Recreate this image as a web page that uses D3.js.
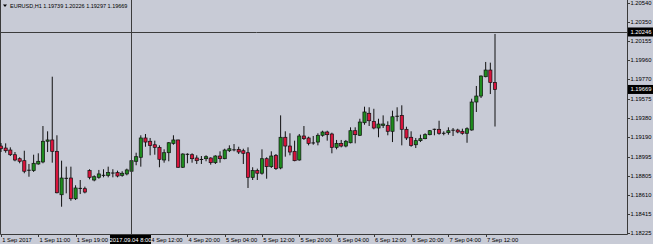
<!DOCTYPE html>
<html>
<head>
<meta charset="utf-8">
<script src="https://cdn.jsdelivr.net/npm/d3@7"></script>
<style>
  body { margin: 0; background: #c8cbd6; }
  svg { display: block; }
  text { font-family: "Liberation Sans", Arial, sans-serif; font-size: 5.8px; fill: #000; }
</style>
</head>
<body>
<div id="chart"></div>
<script>
// EURUSD H1, 1 Sep 2017 03:00 .. 7 Sep 14:00 (bar index 0..106)
var opens = [
  1.19101, 1.19081, 1.19061, 1.19014, 1.18974, 1.18954, 1.18861, 1.18854, 1.18921, 1.18941,
  1.19149, 1.19162, 1.19048, 1.18612, 1.18780, 1.18780, 1.18572, 1.18673, 1.18673, 1.18854,
  1.18760, 1.18787, 1.18814, 1.18807, 1.18828, 1.18834, 1.18807, 1.18821, 1.18848, 1.18948,
  1.18988, 1.19182, 1.19149, 1.19114, 1.19088, 1.18961, 1.19034, 1.19128, 1.19162, 1.18888,
  1.19021, 1.19014, 1.18981, 1.18968, 1.18974, 1.18981, 1.18934, 1.19001, 1.18974, 1.19054,
  1.19061, 1.19068, 1.19054, 1.19034, 1.18787, 1.18854, 1.18828, 1.18974, 1.18894, 1.19008,
  1.18881, 1.19189, 1.19101, 1.19048, 1.18961, 1.19202, 1.19182, 1.19134, 1.19141, 1.19209,
  1.19242, 1.19222, 1.19088, 1.19128, 1.19101, 1.19134, 1.19255, 1.19209, 1.19335, 1.19430,
  1.19349, 1.19282, 1.19309, 1.19309, 1.19249, 1.19402, 1.19409, 1.19269, 1.19189, 1.19114,
  1.19155, 1.19175, 1.19215, 1.19262, 1.19269, 1.19235, 1.19235, 1.19262, 1.19262, 1.19249,
  1.19229, 1.19262, 1.19543, 1.19603, 1.19797, 1.19864, 1.19739
];
var highs = [
  1.19131, 1.19128, 1.19088, 1.19041, 1.18988, 1.19054, 1.18921, 1.19014, 1.19028, 1.19302,
  1.19249, 1.19797, 1.19209, 1.18954, 1.18894, 1.18894, 1.18707, 1.18760, 1.18693, 1.18868,
  1.18807, 1.18861, 1.18868, 1.18894, 1.18868, 1.18854, 1.18848, 1.18874, 1.19041, 1.19034,
  1.19209, 1.19222, 1.19182, 1.19155, 1.19108, 1.19068, 1.19141, 1.19209, 1.19165, 1.19028,
  1.19028, 1.19028, 1.19008, 1.19001, 1.19008, 1.18988, 1.19008, 1.19048, 1.19074, 1.19108,
  1.19121, 1.19094, 1.19074, 1.19088, 1.18888, 1.18874, 1.19068, 1.18988, 1.19048, 1.19021,
  1.19409, 1.19249, 1.19229, 1.19155, 1.19222, 1.19302, 1.19195, 1.19202, 1.19229, 1.19255,
  1.19255, 1.19235, 1.19162, 1.19162, 1.19162, 1.19289, 1.19289, 1.19375, 1.19496, 1.19490,
  1.19475, 1.19375, 1.19409, 1.19349, 1.19456, 1.19490, 1.19510, 1.19295, 1.19249, 1.19182,
  1.19215, 1.19229, 1.19262, 1.19275, 1.19355, 1.19249, 1.19289, 1.19282, 1.19275, 1.19275,
  1.19289, 1.19576, 1.19704, 1.19810, 1.19945, 1.19938, 1.20226
];
var lows = [
  1.19041, 1.19034, 1.19001, 1.18948, 1.18928, 1.18828, 1.18793, 1.18841, 1.18914, 1.18928,
  1.19041, 1.18934, 1.18626, 1.18492, 1.18626, 1.18552, 1.18559, 1.18619, 1.18626, 1.18767,
  1.18747, 1.18773, 1.18787, 1.18787, 1.18787, 1.18787, 1.18793, 1.18807, 1.18828, 1.18908,
  1.18894, 1.19094, 1.19008, 1.19014, 1.18888, 1.18934, 1.18948, 1.19114, 1.18881, 1.18881,
  1.18928, 1.18934, 1.18921, 1.18921, 1.18948, 1.18914, 1.18921, 1.18934, 1.18968, 1.19041,
  1.19048, 1.19021, 1.18921, 1.18680, 1.18760, 1.18760, 1.18814, 1.18773, 1.18881, 1.18861,
  1.18868, 1.18994, 1.19008, 1.18948, 1.18954, 1.19162, 1.19108, 1.19114, 1.19108, 1.19195,
  1.19155, 1.19028, 1.19068, 1.19088, 1.19088, 1.19128, 1.19128, 1.19202, 1.19315, 1.19302,
  1.19269, 1.19189, 1.19282, 1.19209, 1.19141, 1.19349, 1.19108, 1.19162, 1.19094, 1.19081,
  1.19141, 1.19169, 1.19209, 1.19209, 1.19215, 1.19209, 1.19215, 1.19202, 1.19229, 1.19215,
  1.19134, 1.19255, 1.19443, 1.19583, 1.19791, 1.19623, 1.19297
];
var closes = [
  1.19074, 1.19054, 1.19014, 1.18961, 1.18948, 1.18848, 1.18858, 1.18928, 1.18948, 1.19149,
  1.19162, 1.19048, 1.18632, 1.18780, 1.18777, 1.18572, 1.18680, 1.18676, 1.18639, 1.18787,
  1.18793, 1.18821, 1.18807, 1.18834, 1.18830, 1.18800, 1.18828, 1.18861, 1.18954, 1.18994,
  1.19182, 1.19141, 1.19108, 1.19088, 1.18968, 1.19034, 1.19134, 1.19162, 1.18888, 1.19021,
  1.19018, 1.18974, 1.18954, 1.18966, 1.18994, 1.18934, 1.19001, 1.18974, 1.19061, 1.19074,
  1.19063, 1.19041, 1.19028, 1.18787, 1.18854, 1.18828, 1.18974, 1.18894, 1.19001, 1.18874,
  1.19189, 1.19101, 1.19041, 1.18954, 1.19202, 1.19175, 1.19128, 1.19132, 1.19209, 1.19242,
  1.19215, 1.19088, 1.19128, 1.19101, 1.19149, 1.19255, 1.19215, 1.19342, 1.19443, 1.19355,
  1.19282, 1.19322, 1.19322, 1.19249, 1.19395, 1.19400, 1.19269, 1.19182, 1.19108, 1.19155,
  1.19175, 1.19215, 1.19255, 1.19269, 1.19229, 1.19229, 1.19255, 1.19260, 1.19242, 1.19229,
  1.19275, 1.19543, 1.19603, 1.19804, 1.19864, 1.19739, 1.19669
];

var priceTicks = [1.20540, 1.20350, 1.20155, 1.19960, 1.19770, 1.19575, 1.19380,
                  1.19190, 1.18995, 1.18805, 1.18610, 1.18415, 1.18225];
var timeTickBars = [0, 8, 16, 24, 32, 40, 48, 56, 64, 72, 80, 88, 96, 104];
var timeTickLabels = ["1 Sep 2017", "1 Sep 11:00", "1 Sep 19:00", "4 Sep 04:00", "4 Sep 12:00",
  "4 Sep 20:00", "5 Sep 04:00", "5 Sep 12:00", "5 Sep 20:00", "6 Sep 04:00", "6 Sep 12:00",
  "6 Sep 20:00", "7 Sep 04:00", "7 Sep 12:00"];

var title = "EURUSD,H1  1.19739 1.20226 1.19297 1.19669";
var crossPrice = 1.20246, crossBar = 28, crossLabel = "2017.09.04 8:00";
var lastPrice = 1.19669;

var width = 653, height = 244;
var plotRight = 627, plotBottom = 234;

var bg = "#c8cbd6", upCol = "#1e8c1e", downCol = "#d8143c", frame = "#3a3a3a";

var x = d3.scaleLinear().domain([0, 106]).range([1, 495]);
var y = d3.scaleLinear().domain([1.18225, 1.20540]).range([233.3, 2.7]);

var bars = opens.map(function (o, i) {
  return { i: i, o: o, h: highs[i], l: lows[i], c: closes[i] };
});

var svg = d3.select("#chart").append("svg")
  .attr("width", width)
  .attr("height", height);

svg.append("rect").attr("width", width).attr("height", height).attr("fill", bg);

// frame
svg.append("path")
  .attr("d", "M0.5,0 V" + (plotBottom + 0.5) + " H" + (plotRight + 0.5) + " V0")
  .attr("fill", "none")
  .attr("stroke", frame)
  .attr("stroke-width", 1);

// candles
var g = svg.append("g").attr("class", "candles");

g.selectAll("line.wick")
  .data(bars)
  .enter()
  .append("line")
  .attr("class", "wick")
  .attr("x1", function (d) { return x(d.i); })
  .attr("x2", function (d) { return x(d.i); })
  .attr("y1", function (d) { return y(d.h); })
  .attr("y2", function (d) { return y(d.l); })
  .attr("stroke", "#111")
  .attr("stroke-width", 1);

g.selectAll("rect.body")
  .data(bars.filter(function (d) { return Math.abs(d.o - d.c) >= 0.00008; }))
  .enter()
  .append("rect")
  .attr("class", "body")
  .attr("x", function (d) { return x(d.i) - 1.6; })
  .attr("width", 3.2)
  .attr("y", function (d) { return y(Math.max(d.o, d.c)); })
  .attr("height", function (d) { return Math.abs(y(d.o) - y(d.c)); })
  .attr("fill", function (d) { return d.c > d.o ? upCol : downCol; })
  .attr("stroke", "#111")
  .attr("stroke-width", 0.7);

g.selectAll("line.doji")
  .data(bars.filter(function (d) { return Math.abs(d.o - d.c) < 0.00008; }))
  .enter()
  .append("line")
  .attr("class", "doji")
  .attr("x1", function (d) { return x(d.i) - 1.8; })
  .attr("x2", function (d) { return x(d.i) + 1.8; })
  .attr("y1", function (d) { return y(d.c); })
  .attr("y2", function (d) { return y(d.c); })
  .attr("stroke", "#111")
  .attr("stroke-width", 1);

// crosshair
svg.append("line")
  .attr("x1", 0).attr("x2", plotRight)
  .attr("y1", Math.round(y(crossPrice)) + 0.5).attr("y2", Math.round(y(crossPrice)) + 0.5)
  .attr("stroke", "#3c3c3c");
svg.append("line")
  .attr("x1", Math.round(x(crossBar)) + 0.5).attr("x2", Math.round(x(crossBar)) + 0.5)
  .attr("y1", 0).attr("y2", plotBottom)
  .attr("stroke", "#3c3c3c");

// price axis
var yAxis = svg.append("g").attr("class", "y-axis");
yAxis.selectAll("line")
  .data(priceTicks)
  .enter()
  .append("line")
  .attr("x1", plotRight).attr("x2", plotRight + 3)
  .attr("y1", function (d) { return Math.round(y(d)) + 0.5; })
  .attr("y2", function (d) { return Math.round(y(d)) + 0.5; })
  .attr("stroke", frame);
yAxis.selectAll("text")
  .data(priceTicks)
  .enter()
  .append("text")
  .attr("x", plotRight + 3.5)
  .attr("y", function (d) { return y(d) + 2; })
  .text(function (d) { return d3.format(".5f")(d); });

// highlighted price labels
[crossPrice, lastPrice].forEach(function (p) {
  svg.append("rect")
    .attr("x", plotRight + 1).attr("y", y(p) - 4.5)
    .attr("width", 25).attr("height", 9)
    .attr("fill", "#000");
  svg.append("text")
    .attr("x", plotRight + 3.5).attr("y", y(p) + 2)
    .style("fill", "#fff")
    .text(d3.format(".5f")(p));
});

// time axis; the label hidden under the crosshair time box is skipped
var boxL = x(crossBar) - 21.5, boxR = x(crossBar) + 19.5;
var shownTicks = timeTickBars.filter(function (b) {
  return x(b) + 1 > boxR || x(b) + 30 < boxL;
});

var xAxis = svg.append("g").attr("class", "x-axis");
xAxis.selectAll("line")
  .data(timeTickBars)
  .enter()
  .append("line")
  .attr("x1", function (d) { return Math.round(x(d)) + 0.5; })
  .attr("x2", function (d) { return Math.round(x(d)) + 0.5; })
  .attr("y1", plotBottom).attr("y2", plotBottom + 3)
  .attr("stroke", frame);
xAxis.selectAll("text")
  .data(shownTicks)
  .enter()
  .append("text")
  .attr("x", function (d) { return x(d) + 1.2; })
  .attr("y", 241.5)
  .text(function (d) { return timeTickLabels[timeTickBars.indexOf(d)]; });

// crosshair time label
svg.append("rect")
  .attr("x", boxL).attr("y", plotBottom + 1)
  .attr("width", boxR - boxL).attr("height", 9)
  .attr("fill", "#000");
svg.append("text")
  .attr("x", (boxL + boxR) / 2).attr("y", 241.5)
  .attr("text-anchor", "middle")
  .style("fill", "#fff")
  .text(crossLabel);

// title
svg.append("path")
  .attr("d", "M3,4.5 L7,4.5 L5,7 Z")
  .attr("fill", "#000");
svg.append("text")
  .attr("x", 10).attr("y", 8)
  .style("font-size", "5.5px")
  .text(title);
</script>
</body>
</html>
